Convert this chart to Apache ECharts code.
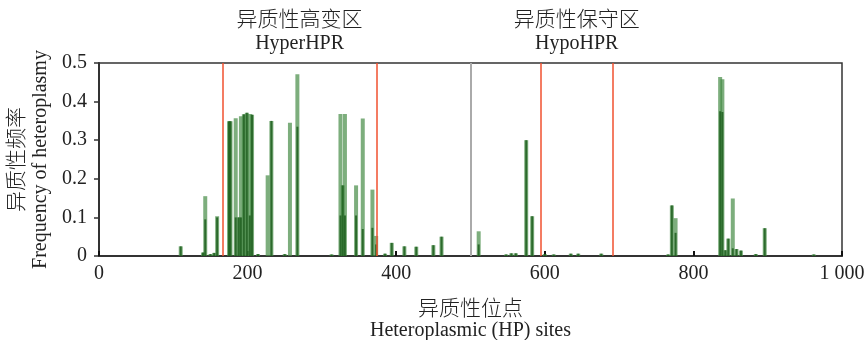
<!DOCTYPE html>
<html>
<head>
<meta charset="utf-8">
<script src="https://cdn.jsdelivr.net/npm/echarts@6/dist/echarts.min.js"></script>
<style>
  html, body { margin: 0; padding: 0; background: #fff; }
  #chart { width: 867px; height: 340px; }
</style>
</head>
<body>
<div id="chart"></div>
<script>
// 位点 / 频率（外层浅色 + 内层深色）
const sites = [110, 140, 143, 150, 155, 159, 175, 177, 184, 188, 191, 195, 199, 203, 206, 214, 227, 232, 250, 257, 267,
  313, 325, 328, 331, 346, 355, 368, 373, 385, 394, 411, 427, 450, 461,
  511, 548, 555, 561, 575, 583, 600, 612, 635, 645, 676,
  766, 771, 776, 836, 839, 843, 847, 853, 858, 864, 884, 896, 962];
const freqTop = [0.025, 0.009, 0.155, 0.005, 0.008, 0.103, 0.349, 0.349, 0.357, 0.1, 0.362, 0.367, 0.371, 0.368, 0.366, 0.005, 0.209, 0.35, 0.005, 0.345, 0.471,
  0.004, 0.368, 0.183, 0.368, 0.183, 0.356, 0.172, 0.052, 0.006, 0.034, 0.025, 0.024, 0.028, 0.05,
  0.064, 0.004, 0.007, 0.007, 0.3, 0.103, 0.005, 0.004, 0.006, 0.006, 0.006,
  0.004, 0.131, 0.098, 0.464, 0.458, 0.015, 0.045, 0.149, 0.018, 0.014, 0.005, 0.072, 0.004];
const freqCore = [0.025, 0.009, 0.095, 0.005, 0.008, 0.1, 0.349, 0.349, 0.1, 0.1, 0.1, 0.367, 0.371, 0.105, 0.366, 0.005, 0, 0.35, 0.005, 0, 0.335,
  0.004, 0.105, 0.183, 0.105, 0.105, 0.07, 0.073, 0.03, 0.006, 0.034, 0.025, 0.024, 0.028, 0.05,
  0.03, 0.004, 0.007, 0.007, 0.3, 0.103, 0.005, 0.004, 0.006, 0.006, 0.006,
  0.004, 0.131, 0.06, 0.375, 0.373, 0.015, 0.045, 0.02, 0.018, 0.014, 0.005, 0.072, 0.004];

// 分区界线
const redLines = [166, 374, 595, 691];
const grayLine = 501;
const regions = [
  { from: 166, to: 374, cn: '异质性高变区', en: 'HyperHPR' },
  { from: 595, to: 691, cn: '异质性保守区', en: 'HypoHPR' }
];

const FONT = "'Liberation Serif', 'Noto Sans CJK SC', serif";
const CN = { fontFamily: FONT, fontSize: 21, fontWeight: 300, color: '#222' };
const EN = { fontFamily: FONT, fontSize: 20, color: '#222' };

const chart = echarts.init(document.getElementById('chart'));

const xBase = {
  type: 'value',
  min: 0,
  max: 1000,
  interval: 200
};

chart.setOption({
  animation: false,
  grid: {
    left: 99, right: 25, top: 63, bottom: 84,
    outerBoundsMode: 'none',
    containLabel: false,
    show: true, borderColor: '#333', borderWidth: 1.5
  },
  xAxis: [
    {
      ...xBase,
      name: '{cn|异质性位点}\n{en|Heteroplasmic (HP) sites}',
      nameLocation: 'middle',
      nameGap: 42,
      nameTextStyle: {
        color: '#222',
        rich: {
          cn: { ...CN, lineHeight: 22 },
          en: { ...EN, lineHeight: 22 }
        }
      },
      axisLine: { lineStyle: { color: '#333', width: 2 } },
      axisTick: { inside: true, length: 5, lineStyle: { color: '#111', width: 2 } },
      axisLabel: {
        fontFamily: FONT, fontSize: 20, color: '#222', margin: 8,
        formatter: v => (v === 1000 ? '1 000' : String(v))
      },
      splitLine: { show: false }
    },
    { ...xBase, show: false }
  ],
  yAxis: {
    type: 'value',
    min: 0,
    max: 0.5,
    interval: 0.1,
    name: '{cn|异质性频率}\n{en|Frequency of heteroplasmy}',
    nameLocation: 'middle',
    nameRotate: 90,
    nameGap: 45,
    nameTextStyle: {
      color: '#222',
      rich: {
        cn: { ...CN, lineHeight: 24 },
        en: { ...EN, lineHeight: 24 }
      }
    },
    axisLine: { show: true, lineStyle: { color: '#333', width: 2 } },
    axisTick: { show: true, length: 5, lineStyle: { color: '#333', width: 1.5 } },
    axisLabel: {
      fontFamily: FONT, fontSize: 20, color: '#222', margin: 12,
      formatter: v => (v === 0 ? '0' : v.toFixed(1))
    },
    splitLine: { show: false }
  },
  series: [
    {
      type: 'bar',
      xAxisIndex: 0,
      barWidth: 4,
      itemStyle: { color: 'rgba(70, 140, 70, 0.7)' },
      data: sites.map((s, i) => [s, freqTop[i]]),
      markLine: {
        silent: true,
        symbol: 'none',
        label: { show: false },
        data: redLines.map(v => ({ xAxis: v, lineStyle: { color: '#f0502f', width: 1.5, type: 'solid' } }))
          .concat([{ xAxis: grayLine, lineStyle: { color: '#aaaaaa', width: 2, type: 'solid' } }])
      },
      markArea: {
        silent: true,
        itemStyle: { color: 'transparent' },
        label: {
          position: 'top',
          distance: 8,
          color: '#222',
          rich: {
            cn: { ...CN, lineHeight: 23 },
            en: { ...EN, lineHeight: 23 }
          }
        },
        data: regions.map(r => [
          { xAxis: r.from, name: '{cn|' + r.cn + '}\n{en|' + r.en + '}' },
          { xAxis: r.to }
        ])
      }
    },
    {
      type: 'bar',
      xAxisIndex: 1,
      barWidth: 2,
      itemStyle: { color: 'rgba(30, 95, 30, 0.85)' },
      data: sites.map((s, i) => [s, freqCore[i]])
    }
  ]
});
</script>
</body>
</html>
